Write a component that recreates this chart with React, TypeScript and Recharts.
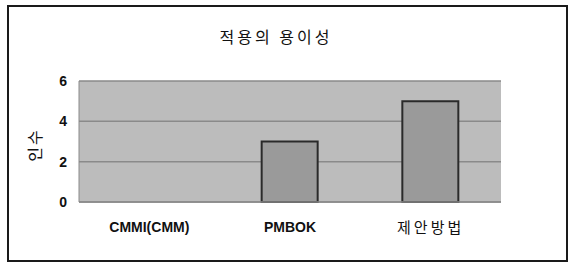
import { BarChart, Bar, XAxis, YAxis, CartesianGrid } from 'recharts';

const categories = ['CMMI(CMM)', 'PMBOK', '제안방법'];
const counts = [0, 3, 5];
const yTicks = [0, 2, 4, 6];

const chartData = categories.map((name, i) => ({ name, count: counts[i] }));

const KOR = '"Noto Sans CJK KR", "Noto Sans", sans-serif';
const LAT = '"Liberation Sans", Arial, sans-serif';

// latin labels are bold, hangul ones are lighter and spaced out
const XTick = (props: any) => {
  const { x, y, payload } = props;
  const hangul = /[가-힣]/.test(payload.value);
  return (
    <text
      x={x}
      y={y}
      dy="0.71em"
      textAnchor="middle"
      fill="#111"
      fontFamily={hangul ? KOR : LAT}
      fontWeight={hangul ? 400 : 700}
      fontSize={hangul ? 15 : 14}
      letterSpacing={hangul ? 3 : 0}
    >
      {payload.value}
    </text>
  );
};

const YLabel = () => (
  <text
    x={34}
    y={145}
    transform="rotate(-90 34 145)"
    textAnchor="middle"
    dominantBaseline="central"
    fontFamily={KOR}
    fontSize={16}
    fill="#111"
    letterSpacing={2}
  >
    인수
  </text>
);

export default function App() {
  return (
    <div style={{ position: 'absolute', left: 0, top: 0, width: 570, height: 262, background: '#fff' }}>
      <div
        style={{
          position: 'absolute',
          left: 7,
          top: 5,
          width: 557,
          height: 253,
          border: '2px solid #1a1a1a',
        }}
      />
      <div
        style={{
          position: 'absolute',
          left: 176,
          top: 25,
          width: 200,
          textAlign: 'center',
          fontFamily: KOR,
          fontSize: 16,
          letterSpacing: 3,
          color: '#111',
          lineHeight: '22px',
        }}
      >
        적용의 용이성
      </div>
      <div style={{ position: 'absolute', left: 0, top: 0 }}>
        <BarChart
          width={570}
          height={262}
          data={chartData}
          margin={{ top: 81, right: 69, bottom: 30, left: 39 }}
          barSize={56}
        >
          <CartesianGrid
            vertical={false}
            fill="#bcbcbc"
            stroke="#8a8a8a"
            strokeWidth={1.5}
          />
          <XAxis
            dataKey="name"
            height={30}
            axisLine={{ stroke: '#8a8a8a', strokeWidth: 1.5 }}
            tickLine={false}
            tickSize={8}
            tickMargin={12}
            tick={<XTick />}
            interval={0}
          />
          <YAxis
            width={40}
            domain={[0, 6]}
            ticks={yTicks}
            axisLine={{ stroke: '#8a8a8a', strokeWidth: 1 }}
            tickLine={false}
            tickSize={6}
            tickMargin={6}
            tick={{ fill: '#111', fontFamily: LAT, fontWeight: 700, fontSize: 14 }}
            label={<YLabel />}
          />
          <YAxis
            yAxisId="frame"
            orientation="right"
            width={0}
            domain={[0, 6]}
            axisLine={{ stroke: '#8a8a8a', strokeWidth: 1 }}
            tickLine={false}
            tick={false}
          />
          <Bar
            dataKey="count"
            fill="#9a9a9a"
            stroke="#2a2a2a"
            strokeWidth={2}
            isAnimationActive={false}
          />
        </BarChart>
      </div>
    </div>
  );
}
